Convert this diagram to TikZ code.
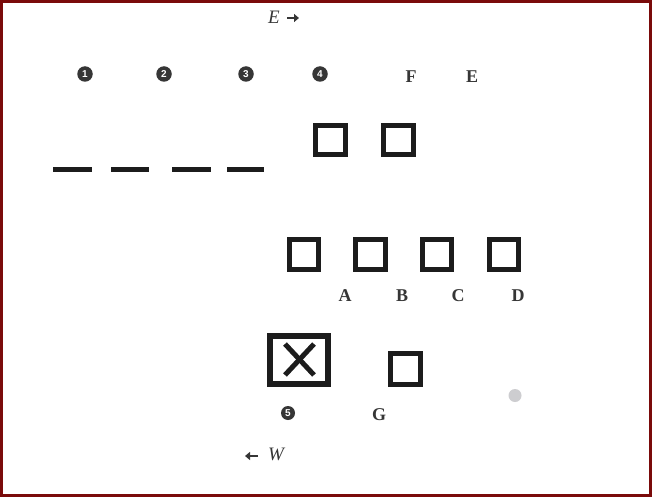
\documentclass[tikz,border=0pt]{standalone}
\usepackage{fontspec}
\usetikzlibrary{arrows.meta}
\setmainfont{Liberation Serif}
\newfontfamily\numfont{Liberation Sans}
\definecolor{frame}{HTML}{7A0A0A}
\definecolor{ink}{HTML}{1C1C1C}
\definecolor{txt}{HTML}{363636}
\definecolor{blob}{HTML}{CDCDD0}
\begin{document}
\begin{tikzpicture}[x=1pt,y=-1pt,
  sq/.style={draw=ink,line width=5pt,minimum width=29.5pt,minimum height=29.5pt,inner sep=0pt},
  dashbar/.style={draw=ink,line width=4.5pt},
  num/.style={circle,fill=txt,text=white,minimum size=15.5pt,inner sep=0pt,font=\numfont\bfseries\fontsize{10}{10}\selectfont},
  lab/.style={text=txt,font=\bfseries\fontsize{18}{18}\selectfont,inner sep=0pt},
  dir/.style={text=txt,font=\itshape\fontsize{19}{19}\selectfont,inner sep=0pt},
  arr/.style={draw=txt,line width=2.4pt,-{Triangle[length=5pt,width=8pt]}}]
\useasboundingbox (0,0) rectangle (652,497);
\fill[white] (0,0) rectangle (652,497);
\draw[frame,line width=3pt] (1.5,1.5) rectangle (650.5,495.5);
% heading arrows
\node[dir] (Etop) at (274,17) {E};
\coordinate (Ea) at (287,18); \coordinate (Eb) at (299,18);
\draw[arr] (Ea) -- (Eb);
\coordinate (Wa) at (258,456); \coordinate (Wb) at (245,456);
\draw[arr] (Wa) -- (Wb);
\node[dir] (Wbot) at (276,454) {W};
% numbers
\node[num] (n1) at (85,74) {1};
\node[num] (n2) at (164,74) {2};
\node[num] (n3) at (246,74) {3};
\node[num] (n4) at (320,74) {4};
\node[num,minimum size=14pt] (n5) at (288,413) {5};
\node[lab] (F) at (411,77) {F};
\node[lab] (E) at (472,77) {E};
% dashes
\coordinate (d1a) at (53,169.5); \coordinate (d1b) at (92,169.5);
\coordinate (d2a) at (111,169.5); \coordinate (d2b) at (149,169.5);
\coordinate (d3a) at (172,169.5); \coordinate (d3b) at (211,169.5);
\coordinate (d4a) at (227,169.5); \coordinate (d4b) at (264,169.5);
\draw[dashbar] (d1a) -- (d1b);
\draw[dashbar] (d2a) -- (d2b);
\draw[dashbar] (d3a) -- (d3b);
\draw[dashbar] (d4a) -- (d4b);
% top squares
\node[sq] (s4) at (330.5,140) {};
\node[sq] (sF) at (398.5,140) {};
% middle row
\node[sq] (m0) at (304,254.5) {};
\node[sq] (mA) at (370.5,254.5) {};
\node[sq] (mB) at (437,254.5) {};
\node[sq] (mC) at (504,254.5) {};
\node[lab] (A) at (345,296) {A};
\node[lab] (B) at (402,296) {B};
\node[lab] (C) at (458,296) {C};
\node[lab] (D) at (518,296) {D};
% bottom
\node[draw=ink,line width=6pt,minimum width=58pt,minimum height=48pt,inner sep=0pt] (X) at (299,360) {};
\draw[ink,line width=5pt] (285,344) -- (314,375);
\draw[ink,line width=5pt] (314,344) -- (285,375);
\node[sq,minimum height=30.5pt] (sG) at (405.5,369) {};
\node[lab] (G) at (379,415) {G};
\fill[blob] (515,395.5) circle (6.5pt);
\end{tikzpicture}
\end{document}
